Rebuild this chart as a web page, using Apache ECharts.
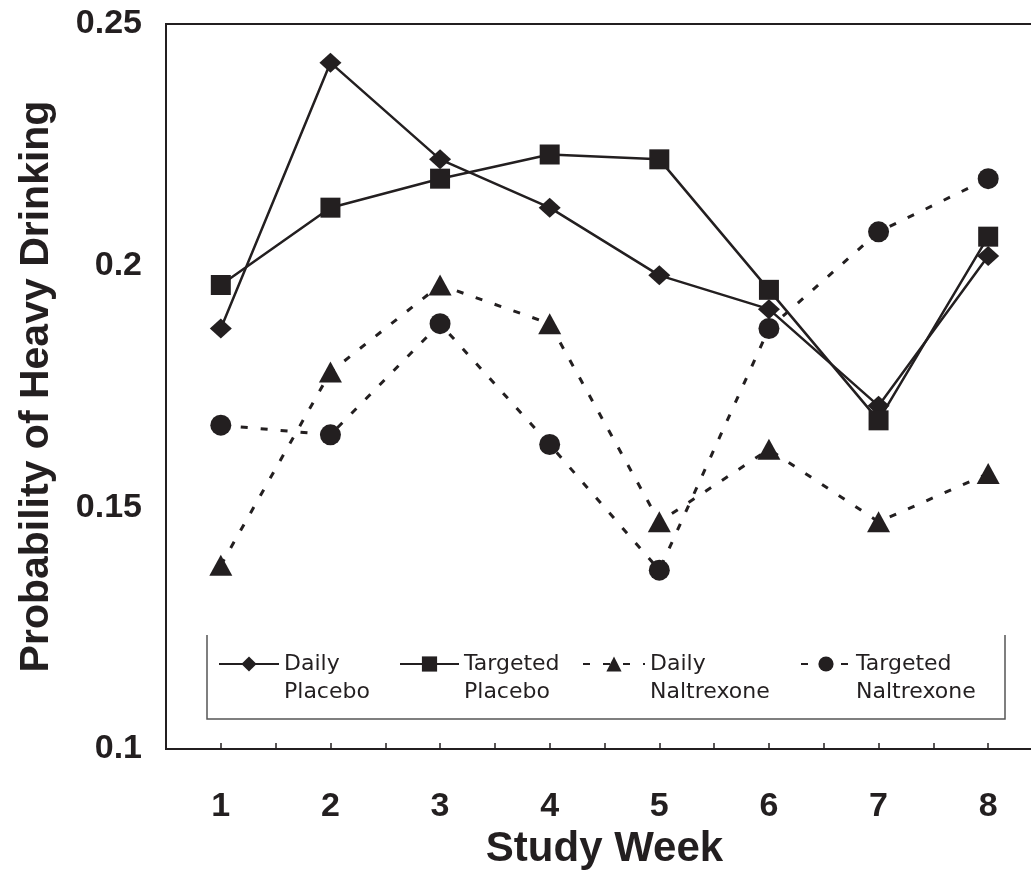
<!DOCTYPE html>
<html>
<head>
<meta charset="utf-8">
<title>Probability of Heavy Drinking by Study Week</title>
<script src="https://cdn.jsdelivr.net/npm/echarts@6/dist/echarts.min.js"></script>
<style>
  html, body { margin: 0; padding: 0; background: #ffffff; }
  #chart { width: 1031px; height: 896px; }
</style>
</head>
<body>
<div id="chart"></div>
<script>
// Study weeks on the horizontal axis
const weeks = [1, 2, 3, 4, 5, 6, 7, 8];

// Probability of a heavy drinking day, per week and treatment group
const dailyPlacebo       = [0.187, 0.242, 0.222, 0.212, 0.198, 0.191, 0.171, 0.202];
const targetedPlacebo    = [0.196, 0.212, 0.218, 0.223, 0.222, 0.195, 0.168, 0.206];
const dailyNaltrexone    = [0.138, 0.178, 0.196, 0.188, 0.147, 0.162, 0.147, 0.157];
const targetedNaltrexone = [0.167, 0.165, 0.188, 0.163, 0.137, 0.187, 0.207, 0.218];

// Group names shown in the legend
const groupNames = ['Daily Placebo', 'Targeted Placebo', 'Daily Naltrexone', 'Targeted Naltrexone'];

// Vertical axis range
const yMin = 0.1;
const yMax = 0.25;
const yStep = 0.05;

const ink = '#231f20';
const font = '"Liberation Sans", Arial, sans-serif';

function pairs(values) {
  return weeks.map((w, i) => [w, values[i]]);
}

const solidLine = { color: ink, width: 2.5, type: 'solid' };
const dashedLine = { color: ink, width: 3, type: [7, 13] };

function makeSeries(name, values, symbol, size, line) {
  return {
    name: name,
    type: 'line',
    data: pairs(values),
    symbol: symbol,
    symbolSize: size,
    showSymbol: true,
    itemStyle: { color: ink, borderWidth: 0 },
    lineStyle: line,
    emphasis: { disabled: true },
    z: 3
  };
}

// One legend block per group; the blank first line keeps the group's
// first word level with its line/marker sample.
function makeLegend(name, left, itemWidth) {
  return {
    data: [name],
    left: left,
    top: 622,
    padding: 0,
    itemWidth: itemWidth,
    itemHeight: 19,
    selectedMode: false,
    formatter: n => ' \n' + n.replace(' ', '\n'),
    textStyle: {
      fontFamily: '"DejaVu Sans", sans-serif',
      fontSize: 22,
      lineHeight: 28,
      color: ink
    }
  };
}

const chart = echarts.init(document.getElementById('chart'), null, { renderer: 'canvas' });

chart.setOption({
  animation: false,
  backgroundColor: '#ffffff',
  textStyle: { fontFamily: font },
  grid: {
    left: 166,
    top: 24,
    width: 877,
    height: 725,
    outerBoundsMode: 'none',
    containLabel: false,
    show: true,
    borderColor: ink,
    borderWidth: 2,
    backgroundColor: 'transparent'
  },
  legend: [
    makeLegend(groupNames[0], 218, 60),
    makeLegend(groupNames[1], 399, 59),
    makeLegend(groupNames[2], 582, 62),
    makeLegend(groupNames[3], 800, 50)
  ],
  xAxis: {
    type: 'value',
    min: 0.5,
    max: 8.5,
    interval: 0.5,
    name: 'Study Week',
    nameLocation: 'middle',
    nameGap: 75,
    nameTextStyle: { fontFamily: font, fontSize: 42, fontWeight: 'bold', color: ink },
    axisLine: { show: true, lineStyle: { color: ink, width: 2 } },
    axisTick: { show: true, inside: true, length: 6, lineStyle: { color: ink, width: 1.5 } },
    splitLine: { show: false },
    axisLabel: {
      margin: 41,
      fontFamily: font,
      fontSize: 34,
      fontWeight: 'bold',
      color: ink,
      formatter: v => (Number.isInteger(v) && weeks.includes(v)) ? String(v) : ''
    }
  },
  yAxis: {
    type: 'value',
    min: yMin,
    max: yMax,
    interval: yStep,
    name: 'Probability of Heavy Drinking',
    nameLocation: 'middle',
    nameRotate: 90,
    nameGap: 109,
    nameTextStyle: { fontFamily: font, fontSize: 41, fontWeight: 'bold', color: ink },
    axisLine: { show: true, lineStyle: { color: ink, width: 2 } },
    axisTick: { show: false },
    splitLine: { show: false },
    axisLabel: {
      margin: 24,
      fontFamily: font,
      fontSize: 34,
      fontWeight: 'bold',
      color: ink
    }
  },
  series: [
    makeSeries(groupNames[0], dailyPlacebo, 'diamond', [22, 20], solidLine),
    makeSeries(groupNames[1], targetedPlacebo, 'rect', 20, solidLine),
    makeSeries(groupNames[2], dailyNaltrexone, 'triangle', [23, 21], dashedLine),
    makeSeries(groupNames[3], targetedNaltrexone, 'circle', 21, dashedLine)
  ],
  graphic: [
    {
      // open frame around the legend entries
      type: 'polyline',
      shape: { points: [[207, 635], [207, 719], [1005, 719], [1005, 635]] },
      style: { stroke: '#555555', lineWidth: 1.5, fill: null },
      silent: true
    }
  ]
});
</script>
</body>
</html>
